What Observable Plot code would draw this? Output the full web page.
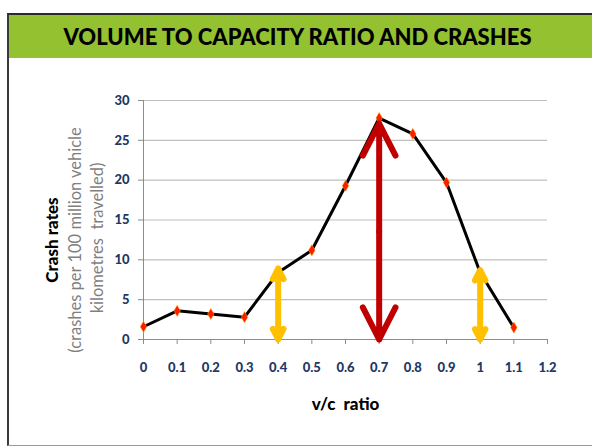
<!DOCTYPE html>
<html>
<head>
<meta charset="utf-8">
<script src="https://cdn.jsdelivr.net/npm/d3@7"></script>
<script src="https://cdn.jsdelivr.net/npm/@observablehq/plot@0.6"></script>
<style>
  html, body { margin: 0; padding: 0; background: #fff; width: 592px; height: 448px; overflow: hidden; font-family: Lato, "Open Sans", sans-serif; }
  #frame { position: absolute; left: 7px; top: 13px; width: 620px; height: 433px; border-left: 2px solid #3a3a3a; border-top: 2px solid #2b2b2b; border-bottom: 1px solid #9a9a9a; border-bottom-right-radius: 14px; box-sizing: border-box; }
  #header { position: absolute; left: 9px; top: 15px; width: 583px; height: 43px; background: #93c12f; display: flex; align-items: center; justify-content: center; }
  #header span { font-family: Lato, sans-serif; font-weight: 900; font-size: 22px; color: #000; margin-left: -6px; }
  #chart { position: absolute; left: 0; top: 60px; }
</style>
</head>
<body>
<div id="frame"></div>
<div id="header"><span id="title"></span></div>
<div id="chart"></div>
<script>
const titleText = "VOLUME TO CAPACITY RATIO AND CRASHES";
const vcRatio = [0, 0.1, 0.2, 0.3, 0.4, 0.5, 0.6, 0.7, 0.8, 0.9, 1.0, 1.1];
const crashRate = [1.6, 3.6, 3.2, 2.8, 8.4, 11.2, 19.3, 27.8, 25.8, 19.7, 8.4, 1.5];
const xTicks = [0, 0.1, 0.2, 0.3, 0.4, 0.5, 0.6, 0.7, 0.8, 0.9, 1, 1.1, 1.2];
const yTicks = [0, 5, 10, 15, 20, 25, 30];
const arrowX = [0.4, 0.7, 1.0];
const arrowTop = [8.9, 27.1, 8.7];
const arrowColor = ["#ffc000", "#c00000", "#ffc000"];
const xLabel = "v/c\u00a0\u00a0ratio";
const yLabel = "Crash rates";
const ySub1 = "(crashes per 100 million vehicle";
const ySub2 = "kilometres\u00a0\u00a0travelled)";

document.getElementById("title").textContent = titleText;

const points = vcRatio.map((x, i) => ({x, y: crashRate[i]}));
const arrows = arrowX.map((x, i) => ({x, top: arrowTop[i], mid: arrowTop[i] / 2, color: arrowColor[i]}));

const navy = "#1f3864";
const fmt = d => String(+d.toFixed(1));

const chart = Plot.plot({
  width: 592,
  height: 388,
  marginTop: 40,
  marginBottom: 109,
  marginLeft: 143,
  marginRight: 45,
  style: {fontFamily: "Lato, 'Open Sans', sans-serif", background: "transparent"},
  x: {domain: [0, 1.2]},
  y: {domain: [0, 30]},
  marks: [
    Plot.gridY(yTicks, {stroke: "#bfbfbf", strokeOpacity: 1, strokeWidth: 1.2}),
    Plot.ruleX([0], {stroke: "#8c8c8c"}),
    Plot.ruleY([0], {stroke: "#8c8c8c"}),
    Plot.axisY({ticks: yTicks, tickSize: 5, tickFormat: () => "", stroke: "#8c8c8c", label: null}),
    Plot.axisY({ticks: yTicks, tickSize: 0, tickPadding: 14, fill: navy, fontWeight: 900, fontSize: 13, label: null}),
    Plot.axisX({ticks: xTicks, tickSize: 5, tickFormat: () => "", stroke: "#8c8c8c", label: null}),
    Plot.axisX({ticks: xTicks, tickSize: 0, tickPadding: 23, tickFormat: fmt, fill: navy, fontWeight: 900, fontSize: 13, label: null}),
    Plot.line(points, {x: "x", y: "y", stroke: "#000", strokeWidth: 3}),
    Plot.dot(points, {x: "x", y: "y", symbol: "diamond", r: 3.4, fill: "#ff1a00", stroke: "#ffb000", strokeWidth: 0.5}),
    Plot.arrow(arrows, {x1: "x", x2: "x", y1: "mid", y2: "top", stroke: "color", strokeWidth: 6, headLength: 25, headAngle: 54, strokeLinecap: "round", strokeLinejoin: "round"}),
    Plot.arrow(arrows, {x1: "x", x2: "x", y1: "mid", y2: () => 0, stroke: "color", strokeWidth: 6, headLength: 25, headAngle: 54, strokeLinecap: "round", strokeLinejoin: "round"}),
    Plot.text([xLabel], {frameAnchor: "bottom", dy: 70, fontWeight: 900, fontSize: 17, fill: "#000"}),
    Plot.text([yLabel], {frameAnchor: "left", textAnchor: "middle", dx: -91, dy: 20, rotate: -90, fontWeight: 900, fontSize: 17, fill: "#000"}),
    Plot.text([ySub1], {frameAnchor: "left", textAnchor: "middle", dx: -68, dy: 20, rotate: -90, fontSize: 16.5, fill: "#7f7f7f"}),
    Plot.text([ySub2], {frameAnchor: "left", textAnchor: "middle", dx: -46, dy: 18, rotate: -90, fontSize: 16.5, fill: "#7f7f7f"})
  ]
});
document.getElementById("chart").appendChild(chart);
</script>
</body>
</html>
